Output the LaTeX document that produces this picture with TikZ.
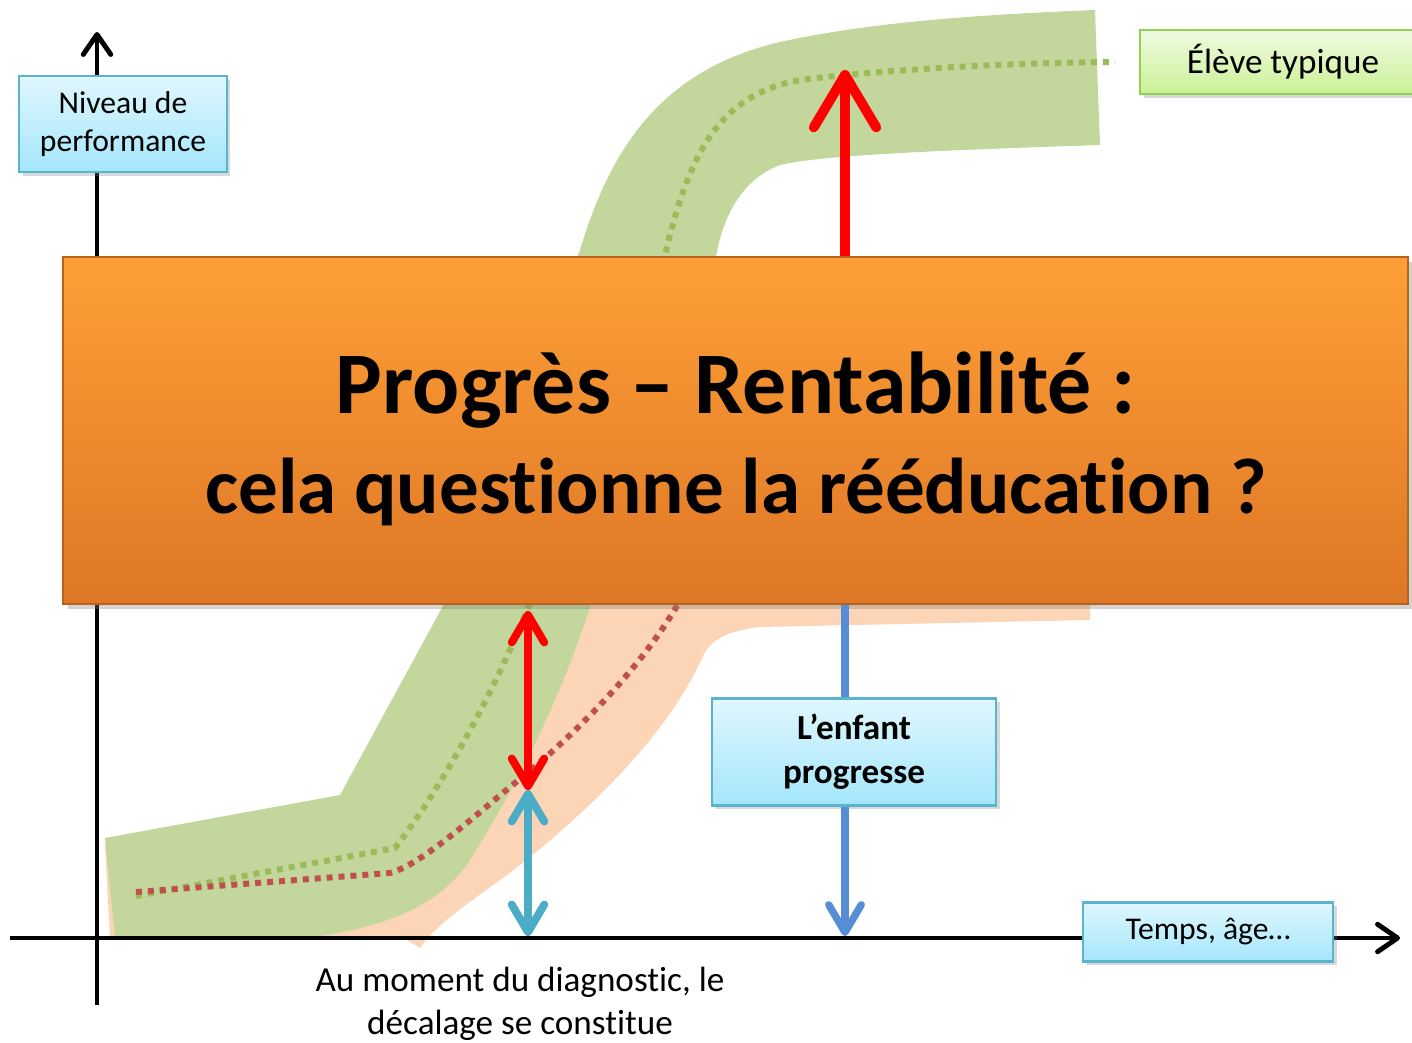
\documentclass[tikz,border=0pt]{standalone}
\usepackage{fontspec}
\setmainfont{Carlito}[Ligatures=NoCommon]
\usetikzlibrary{arrows.meta,shadows}
\definecolor{bandgreen}{HTML}{C3D69B}
\definecolor{bandpeach}{HTML}{FBD5B5}
\definecolor{dotgreen}{HTML}{9BBB59}
\definecolor{dotred}{HTML}{C0504D}
\definecolor{gapteal}{HTML}{4BACC6}
\definecolor{progblue}{HTML}{558ED5}
\definecolor{boxtop}{HTML}{E0F7FD}
\definecolor{boxbottom}{HTML}{A4E6FB}
\definecolor{boxedge}{HTML}{5AB4D0}
\definecolor{typtop}{HTML}{F0FBE2}
\definecolor{typbottom}{HTML}{CBF196}
\definecolor{typedge}{HTML}{92D050}
\definecolor{bannertop}{HTML}{FE9F36}
\definecolor{bannerbottom}{HTML}{DE7726}
\definecolor{banneredge}{HTML}{B8621E}
\tikzset{
  infobox/.style  = {shape=rectangle, draw=boxedge, line width=1.2pt, align=center,
                     top color=boxtop, bottom color=boxbottom,
                     drop shadow={opacity=.3, shadow xshift=2pt, shadow yshift=-2pt}},
  typbox/.style   = {infobox, draw=typedge, top color=typtop, bottom color=typbottom},
  banner/.style   = {shape=rectangle, draw=banneredge, line width=1pt,
                     top color=bannertop, bottom color=bannerbottom,
                     drop shadow={opacity=.35, shadow xshift=3pt, shadow yshift=-3pt}},
  axis/.style     = {line width=2.8pt, -{Straight Barb[length=.4cm, width=.55cm, round]}},
  greendots/.style= {dotgreen, line width=3.4pt, dash pattern=on 3.4pt off 3.4pt},
  reddots/.style  = {dotred, line width=3.4pt, dash pattern=on 3.4pt off 3.4pt},
  chevron/.tip    = {Straight Barb[length=.55cm, width=.65cm, round]},
  gaparrow/.style = {line width=4.5pt, chevron-chevron}
}

\begin{document}
\begin{tikzpicture}
  [
    x = 0.02cm,
    y = -0.02cm,
    every node/.style = {font=\fontsize{20}{24.5}\selectfont}
  ]
  \useasboundingbox (0,0) rectangle (1412,1043);
  \fill[bandpeach] (105,845) -- (300,860) -- (400,830) -- (480,700) -- (560,500)
    -- (1090,500) -- (1090,620) -- (760,627) .. controls (725,631) and (710,641) .. (703,656)
    .. controls (670,730) and (600,800) .. (530,857) .. controls (490,890) and (440,918) .. (420,948)
    -- (400,936) -- (110,936) -- cycle;
  \fill[bandgreen] (105,838) -- (340,795) -- (444,604) -- (580,250)
    .. controls (610,150) and (660,70) .. (780,42) .. controls (880,20) and (1000,14) .. (1095,10)
    -- (1100,145) .. controls (950,150) and (820,155) .. (780,165) .. controls (740,180) and (722,220) .. (716,257)
    -- (591,604) .. controls (560,700) and (520,780) .. (470,860) .. controls (440,905) and (390,925) .. (320,936)
    -- (115,937) -- cycle;
  \draw[greendots] (136,896) -- (395,848) .. controls (440,790) and (490,700) .. (525,615) -- (665,255)
    .. controls (690,150) and (720,95) .. (800,80) .. controls (880,70) and (1000,63) .. (1115,62);
  \draw[reddots] (136,892) -- (390,873) .. controls (420,865) and (470,820) .. (510,787)
    .. controls (570,740) and (640,670) .. (678,604);

  \coordinate (ybot)   at (97,1005);
  \coordinate (ytop)   at (97,32);
  \coordinate (xleft)  at (10,938);
  \coordinate (xright) at (1400,938);
  \draw[axis] (ybot) -- (ytop);
  \draw[axis] (xleft) -- (xright);

  \coordinate (diag)  at (528,790);
  \coordinate (gap)   at (528,611);
  \coordinate (tdiag) at (528,936);
  \coordinate (ttop)  at (845,70);
  \coordinate (tblue) at (845,936);
  \draw[gaparrow, red] (gap) -- (diag);
  \draw[gaparrow, gapteal] (diag) -- (tdiag);

  \node[banner] (titre) at (735.5,430.5) [minimum width=26.9cm, minimum height=6.94cm] {};
  \node[align=center, font=\fontsize{45}{57}\selectfont\bfseries] (question) at (736,439)
    {{\fontsize{50}{57}\selectfont Progrès -- Rentabilité :}\\cela questionne la rééducation ?};
  \draw[red, line width=5.6pt, -{Straight Barb[length=1.05cm, width=1.25cm, round]}]
    (titre.north -| ttop) -- (ttop);

  \node[infobox, font=\fontsize{20}{25}\selectfont\bfseries] (enfant) at (854,752)
    [minimum width=5.68cm, minimum height=2.14cm] {L’enfant\\progresse};
  \draw[progblue, line width=4.2pt] (titre.south -| tblue) -- (enfant.north -| tblue);
  \draw[progblue, line width=4.2pt, -chevron] (enfant.south -| tblue) -- (tblue);

  \node[infobox, font=\fontsize{18}{22}\selectfont] (niveau) at (123,124)
    [minimum width=4.16cm, minimum height=1.92cm] {Niveau de\\performance};
  \node[typbox] (eleve) at (1283,62) [minimum width=5.72cm, minimum height=1.28cm] {Élève typique};
  \node[infobox, font=\fontsize{18}{22}\selectfont] (temps) at (1208,932)
    [minimum width=5cm, minimum height=1.18cm] {Temps, âge…};
  \node[align=center, inner sep=0pt] (moment) at (520,1004) {Au moment du diagnostic, le\\décalage se constitue};
\end{tikzpicture}
\end{document}
